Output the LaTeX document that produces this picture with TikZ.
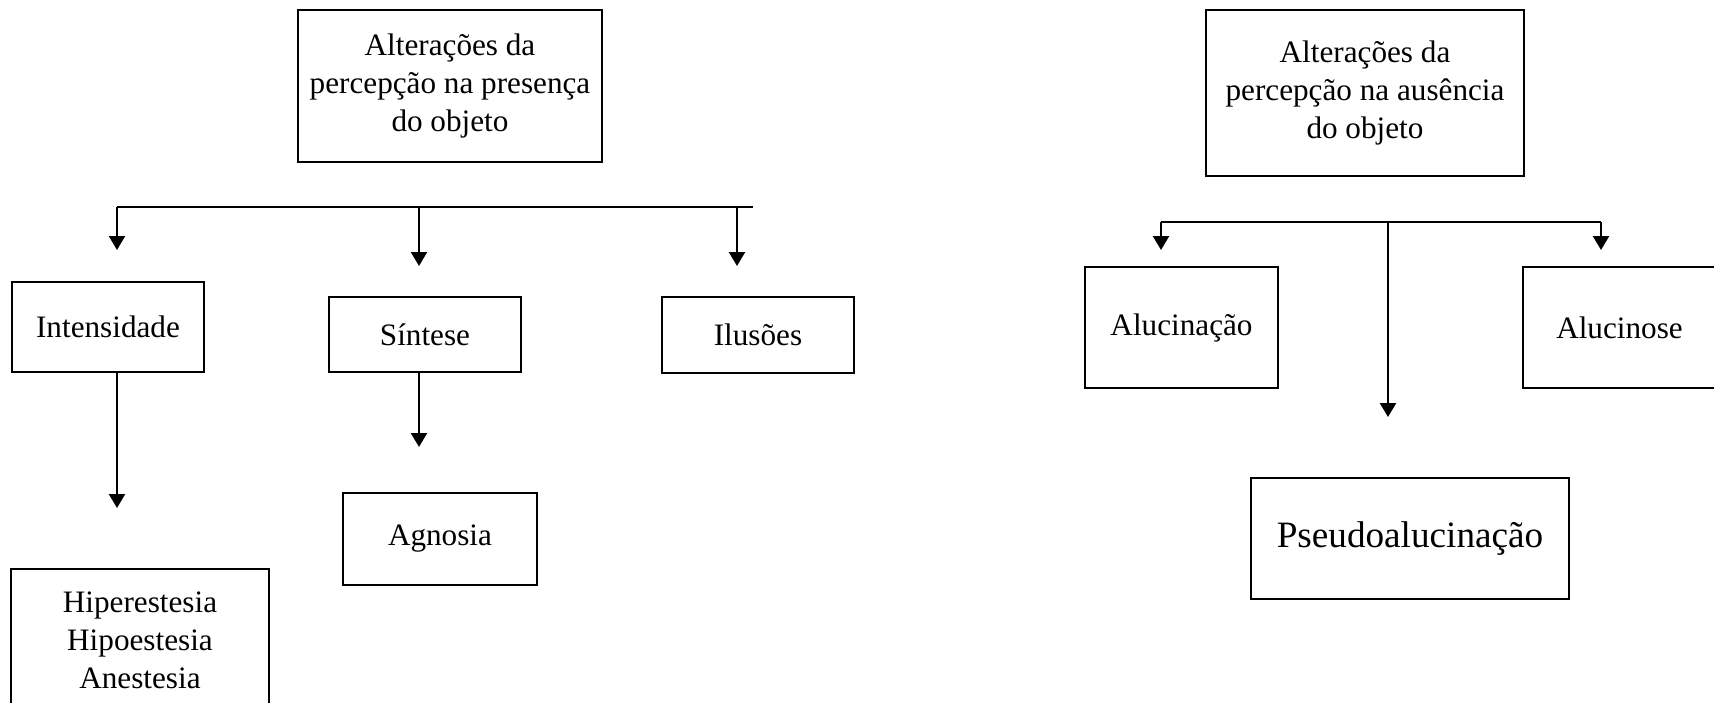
\documentclass[tikz,border=0pt]{standalone}
\usepackage{fontspec}
\setmainfont{Liberation Serif}
\usetikzlibrary{arrows.meta}

\begin{document}
\begin{tikzpicture}[x=0.5pt,y=-0.5pt,
    caixa/.style={draw,line width=1pt,inner sep=0pt,align=center,font=\fontsize{15.6}{19}\selectfont},
    seta/.style={-{Triangle[width=8pt,length=7pt]},line width=1.2pt}]
      \useasboundingbox (0,0) rectangle (1714,702);
      % presenca do objeto
      \node[caixa,minimum width=152pt,minimum height=76pt] (presenca) at (450,86) {Alterações da\\percepção na presença\\do objeto};
      \node[caixa,minimum width=96pt,minimum height=45pt] (intensidade) at (108,327) {Intensidade};
      \node[caixa,minimum width=96pt,minimum height=37.5pt] (sintese) at (425,334.5) {Síntese};
      \node[caixa,minimum width=96pt,minimum height=38pt] (ilusoes) at (758,335) {Ilusões};
      \node[caixa,minimum width=97pt,minimum height=46pt] (agnosia) at (440,539) {Agnosia};
      \node[caixa,minimum width=129pt,minimum height=71.5pt] (hiper) at (140,640.5) {Hiperestesia\\Hipoestesia\\Anestesia};
      \coordinate (ea) at (117,207);
      \coordinate (eb) at (753,207);
      \coordinate (ta) at (117,250);
      \coordinate (tb) at (419,266);
      \coordinate (tc) at (737,266);
      \coordinate (td) at (117,508);
      \coordinate (te) at (419,447);
      \draw[line width=1.2pt] (ea) -- (eb);
      \draw[seta] (ea) -- (ta);
      \draw[seta] (tb |- ea) -- (tb);
      \draw[seta] (tc |- ea) -- (tc);
      \draw[seta] (td |- intensidade.south) -- (td);
      \draw[seta] (te |- sintese.south) -- (te);
      % ausencia do objeto
      \node[caixa,minimum width=159pt,minimum height=83pt] (ausencia) at (1365,93) {Alterações da\\percepção na ausência\\do objeto};
      \node[caixa,minimum width=96.5pt,minimum height=60.5pt] (alucinacao) at (1181.5,327.5) {Alucinação};
      \node[caixa,minimum width=96.5pt,minimum height=60.5pt] (alucinose) at (1619.5,327.5) {Alucinose};
      \node[caixa,minimum width=159pt,minimum height=60.5pt,font=\fontsize{18.6}{22}\selectfont] (pseudo) at (1410,538.5) {Pseudoalucinação};
      \coordinate (ec) at (1161,222);
      \coordinate (ed) at (1601,222);
      \coordinate (tf) at (1161,250);
      \coordinate (tg) at (1388,417);
      \coordinate (th) at (1601,250);
      \draw[line width=1.2pt] (ec) -- (ed);
      \draw[seta] (ec) -- (tf);
      \draw[seta] (tg |- ec) -- (tg);
      \draw[seta] (ed) -- (th);
\end{tikzpicture}
\end{document}
